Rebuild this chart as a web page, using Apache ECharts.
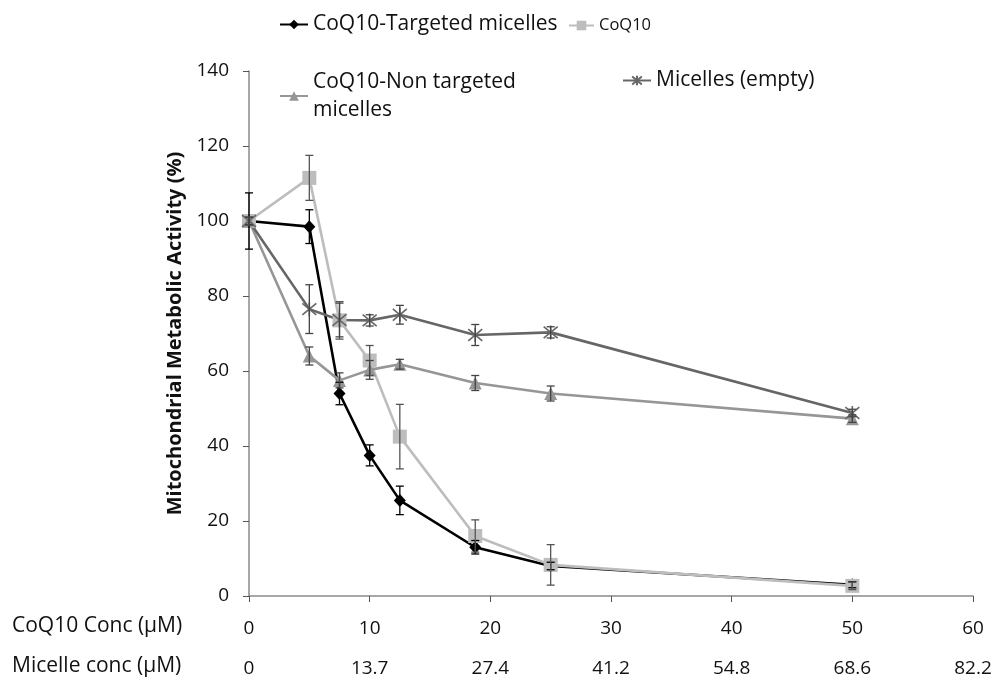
<!DOCTYPE html>
<html>
<head>
<meta charset="utf-8">
<script src="https://cdn.jsdelivr.net/npm/echarts@6/dist/echarts.min.js"></script>
<style>
  html, body { margin: 0; padding: 0; background: #fff; }
  #chart { width: 997px; height: 692px; }
</style>
</head>
<body>
<div id="chart"></div>
<script>
// CoQ10 concentration (uM) of each measurement
const conc = [0, 5, 7.5, 10, 12.5, 18.75, 25, 50]

const targeted = [100, 98.5, 54, 37.5, 25.5, 13, 8, 3]
const targetedErr = [7.5, 4.5, 3, 2.8, 3.8, 1.8, 1, 0.8]
const coq10 = [100, 111.5, 73.5, 62.8, 42.5, 16, 8.3, 2.7]
const coq10Err = [1, 6, 5, 4, 8.6, 4.3, 5.4, 1]
const nonTargeted = [100, 64, 57.5, 60.3, 61.8, 56.8, 54, 47.3]
const nonTargetedErr = [1, 2.4, 2, 2.5, 1.3, 2, 2, 1]
const micelles = [100, 76.5, 73.6, 73.5, 75, 69.6, 70.3, 48.8]
const micellesErr = [1, 6.5, 4.5, 1.5, 2.5, 2.8, 1.5, 1]

// tick labels of the two bottom rows
const coqTicks = [0, 10, 20, 30, 40, 50, 60]
const micelleTicks = ['0', '13.7', '27.4', '41.2', '54.8', '68.6', '82.2']

const FONT = 'Open Sans'
const starPath = 'path://M0,0L10,10M10,0L0,10M5,-1L5,11'

function pts(vals) {
  return conc.map((x, i) => [x, vals[i]])
}

function errPts(vals, errs) {
  return conc.map((x, i) => [x, vals[i] - errs[i], vals[i] + errs[i]])
}

function errorSeries(name, vals, errs, color) {
  return {
    type: 'custom',
    name: name + ' err',
    z: 3,
    silent: true,
    data: errPts(vals, errs),
    renderItem(params, api) {
      const lo = api.coord([api.value(0), api.value(1)])
      const hi = api.coord([api.value(0), api.value(2)])
      const w = 4
      const style = { stroke: color, lineWidth: 1.3 }
      return {
        type: 'group',
        children: [
          { type: 'line', shape: { x1: lo[0], y1: lo[1], x2: hi[0], y2: hi[1] }, style },
          { type: 'line', shape: { x1: lo[0] - w, y1: lo[1], x2: lo[0] + w, y2: lo[1] }, style },
          { type: 'line', shape: { x1: hi[0] - w, y1: hi[1], x2: hi[0] + w, y2: hi[1] }, style }
        ]
      }
    }
  }
}

function lineSeries(name, vals, color, symbol, size, extra) {
  return Object.assign({
    type: 'line',
    name,
    data: pts(vals),
    z: 2,
    symbol,
    symbolSize: size,
    showAllSymbol: true,
    lineStyle: { color, width: 2.6 },
    itemStyle: { color },
    emphasis: { disabled: true }
  }, extra || {})
}

function legendAt(name, left, top, fontSize, extra) {
  return Object.assign({
    data: [name],
    left,
    top,
    itemWidth: 28,
    itemHeight: 12,
    itemGap: 11,
    selectedMode: false,
    textStyle: { fontFamily: FONT, fontSize, color: '#111' }
  }, extra || {})
}

const chart = echarts.init(document.getElementById('chart'))

chart.setOption({
  animation: false,
  backgroundColor: '#fff',
  legend: [
    legendAt('CoQ10-Targeted micelles', 274, 9, 21),
    legendAt('CoQ10', 563, 12, 16.5, { itemWidth: 25 }),
    legendAt('CoQ10-Non targeted micelles', 274, 49, 21, {
      formatter: () => 'CoQ10-Non targeted\nmicelles',
      textStyle: { fontFamily: FONT, fontSize: 21, color: '#111', lineHeight: 28, padding: [28, 0, 0, 0] }
    }),
    legendAt('Micelles (empty)', 617, 65, 21)
  ],
  grid: { left: 249, right: 24, top: 71, bottom: 96 },
  xAxis: [
    {
      type: 'value',
      min: 0,
      max: 60,
      interval: 10,
      axisLine: { lineStyle: { color: '#8a8a8a', width: 1.5 } },
      axisTick: { show: true, length: 6, lineStyle: { color: '#555' } },
      splitLine: { show: false },
      axisLabel: {
        margin: 23,
        fontFamily: FONT,
        fontSize: 19,
        color: '#111',
        formatter: v => String(v)
      }
    },
    {
      type: 'value',
      min: 0,
      max: 60,
      interval: 10,
      position: 'bottom',
      offset: 40,
      axisLine: { show: false },
      axisTick: { show: false },
      splitLine: { show: false },
      axisLabel: {
        margin: 23,
        fontFamily: FONT,
        fontSize: 19,
        color: '#111',
        formatter: v => micelleTicks[coqTicks.indexOf(v)]
      }
    }
  ],
  yAxis: {
    type: 'value',
    min: 0,
    max: 140,
    interval: 20,
    name: 'Mitochondrial Metabolic Activity (%)',
    nameLocation: 'middle',
    nameGap: 60,
    nameTextStyle: { fontFamily: FONT, fontSize: 20, fontWeight: 'bold', color: '#111' },
    axisLine: { show: true, lineStyle: { color: '#8a8a8a', width: 1.5 } },
    axisTick: { show: true, length: 6, lineStyle: { color: '#555' } },
    splitLine: { show: false },
    axisLabel: { margin: 20, fontFamily: FONT, fontSize: 19, color: '#111' }
  },
  graphic: [
    { type: 'text', left: 12, top: 616, style: { text: 'CoQ10 Conc (\u00b5M)', fontFamily: FONT, fontSize: 21, fill: '#111' } },
    { type: 'text', left: 12, top: 656, style: { text: 'Micelle conc (\u00b5M)', fontFamily: FONT, fontSize: 21, fill: '#111' } }
  ],
  series: [
    lineSeries('CoQ10-Targeted micelles', targeted, '#000000', 'diamond', [12, 13]),
    lineSeries('CoQ10', coq10, '#bdbdbd', 'rect', 14),
    lineSeries('CoQ10-Non targeted micelles', nonTargeted, '#969696', 'triangle', 13),
    lineSeries('Micelles (empty)', micelles, '#666666', starPath, 14, {
      itemStyle: { color: '#666666', borderColor: '#666666', borderWidth: 1.6 }
    }),
    errorSeries('CoQ10-Targeted micelles', targeted, targetedErr, '#000000'),
    errorSeries('CoQ10', coq10, coq10Err, '#555555'),
    errorSeries('CoQ10-Non targeted micelles', nonTargeted, nonTargetedErr, '#444444'),
    errorSeries('Micelles (empty)', micelles, micellesErr, '#444444')
  ]
})

window.addEventListener('resize', () => chart.resize())
</script>
</body>
</html>
